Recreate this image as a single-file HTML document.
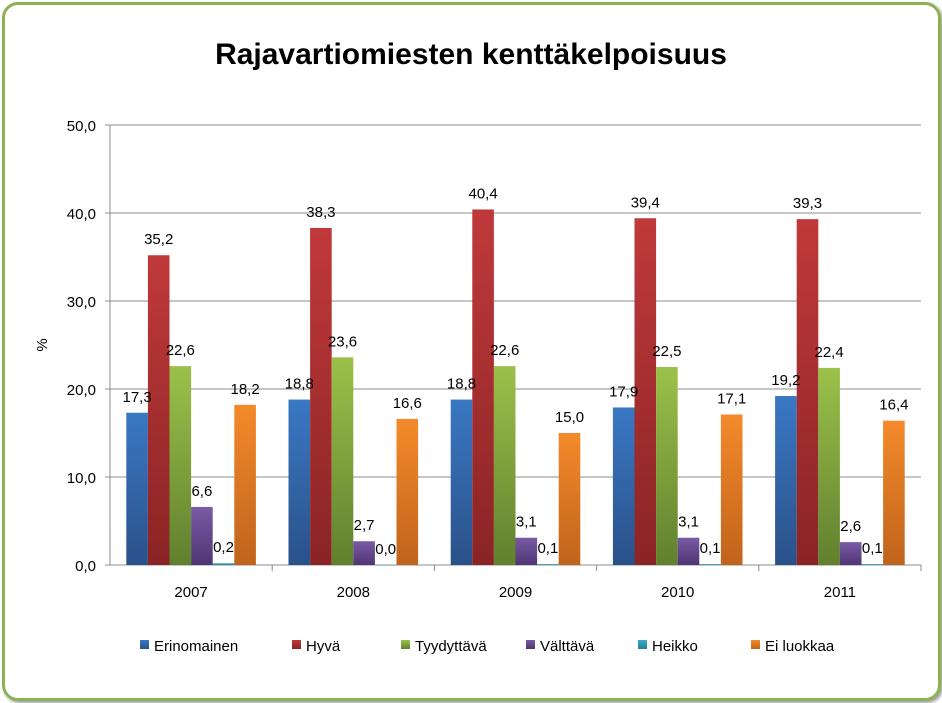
<!DOCTYPE html>
<html><head><meta charset="utf-8"><style>
body{margin:0;background:#fff;width:942px;height:703px;overflow:hidden;font-family:"Liberation Sans",sans-serif;}
#frame{position:absolute;left:2px;top:2px;width:933px;height:693px;border:3px solid #8db255;border-radius:16px;box-shadow:2px 2px 3px #999;}
</style></head><body>
<div id="frame"></div>
<svg id="chart" width="942" height="703" style="position:absolute;left:0;top:0">
<defs>
<linearGradient id="g0" x1="0" y1="0" x2="0" y2="1"><stop offset="0" stop-color="#3a78c4"/><stop offset="1" stop-color="#2a5189"/></linearGradient>
<linearGradient id="g1" x1="0" y1="0" x2="0" y2="1"><stop offset="0" stop-color="#c0393a"/><stop offset="1" stop-color="#8a2425"/></linearGradient>
<linearGradient id="g2" x1="0" y1="0" x2="0" y2="1"><stop offset="0" stop-color="#9cc14a"/><stop offset="1" stop-color="#60802e"/></linearGradient>
<linearGradient id="g3" x1="0" y1="0" x2="0" y2="1"><stop offset="0" stop-color="#7a5aa5"/><stop offset="1" stop-color="#4f3673"/></linearGradient>
<linearGradient id="g4" x1="0" y1="0" x2="0" y2="1"><stop offset="0" stop-color="#3aaac8"/><stop offset="1" stop-color="#24809a"/></linearGradient>
<linearGradient id="g5" x1="0" y1="0" x2="0" y2="1"><stop offset="0" stop-color="#f48a2a"/><stop offset="1" stop-color="#c0631c"/></linearGradient>
</defs>
<text x="471" y="64" text-anchor="middle" font-size="30" font-weight="bold">Rajavartiomiesten kenttäkelpoisuus</text>
<text transform="translate(47,345) rotate(-90)" text-anchor="middle" font-size="15">%</text>
<g id="grid"></g><g id="bars"></g><g id="labels"></g><g id="legend"></g>
</svg>
<script>
const categories=["2007","2008","2009","2010","2011"];
const seriesNames=["Erinomainen","Hyvä","Tyydyttävä","Välttävä","Heikko","Ei luokkaa"];
const erinomainen=[17.3,18.8,18.8,17.9,19.2];
const hyva=[35.2,38.3,40.4,39.4,39.3];
const tyydyttava=[22.6,23.6,22.6,22.5,22.4];
const valttava=[6.6,2.7,3.1,3.1,2.6];
const heikko=[0.2,0.0,0.1,0.1,0.1];
const eiLuokkaa=[18.2,16.6,15.0,17.1,16.4];
const yTicks=[0,10,20,30,40,50];
const series=[erinomainen,hyva,tyydyttava,valttava,heikko,eiLuokkaa];
const NS="http://www.w3.org/2000/svg";
const x0=110,x1=921,yB=565,yT=125,yMax=50;
const y=v=>yB-(v/yMax)*(yB-yT);
const gw=(x1-x0)/categories.length,bw=21.6,pad=(gw-bw*6)/2;
function mk(t,a,p,txt){const e=document.createElementNS(NS,t);for(const k in a)e.setAttribute(k,a[k]);if(txt!=null)e.textContent=txt;p.appendChild(e);return e;}
const grid=document.getElementById('grid'),bars=document.getElementById('bars'),labels=document.getElementById('labels'),legend=document.getElementById('legend');
yTicks.forEach(t=>{
 const l=mk('line',{x1:x0-5,x2:x1,y1:y(t),y2:y(t),stroke:'#8c8c8c','stroke-width':1},grid);
 
 
 const tx=mk('text',{x:x0-14,y:y(t)+6,'text-anchor':'end','font-size':15},grid,t.toFixed(1).replace('.',','));
 
 
});
mk('line',{x1:x0,x2:x0,y1:yT,y2:yB,stroke:'#8c8c8c'},grid);
categories.forEach((c,i)=>{
 const bx=x0+gw*(i+1);
 mk('line',{x1:bx,x2:bx,y1:yB,y2:yB+6,stroke:'#8c8c8c'},grid);
 const tx=mk('text',{x:x0+gw*i+gw/2,y:597,'text-anchor':'middle','font-size':15},grid,c);
 
 
 series.forEach((s,j)=>{
  const v=s[i],bxs=x0+gw*i+pad+bw*j;
  const r=mk('rect',{x:bxs,y:y(v),width:bw,height:Math.max(yB-y(v),0.5),fill:'url(#g'+j+')'},bars);
  
  
  const lt=mk('text',{x:bxs+bw/2,y:y(v)-11,'text-anchor':'middle','font-size':15},labels,v.toFixed(1).replace('.',','));
  
  
 });
});
const lx=[140,292,401,526,638,751];
seriesNames.forEach((n,j)=>{
 const r=mk('rect',{x:lx[j],y:640,width:9,height:9,fill:'url(#g'+j+')'},legend);
 
 
 const t=mk('text',{x:lx[j]+14,y:651,'font-size':15},legend,n);
 
 
});
</script>
</body></html>
